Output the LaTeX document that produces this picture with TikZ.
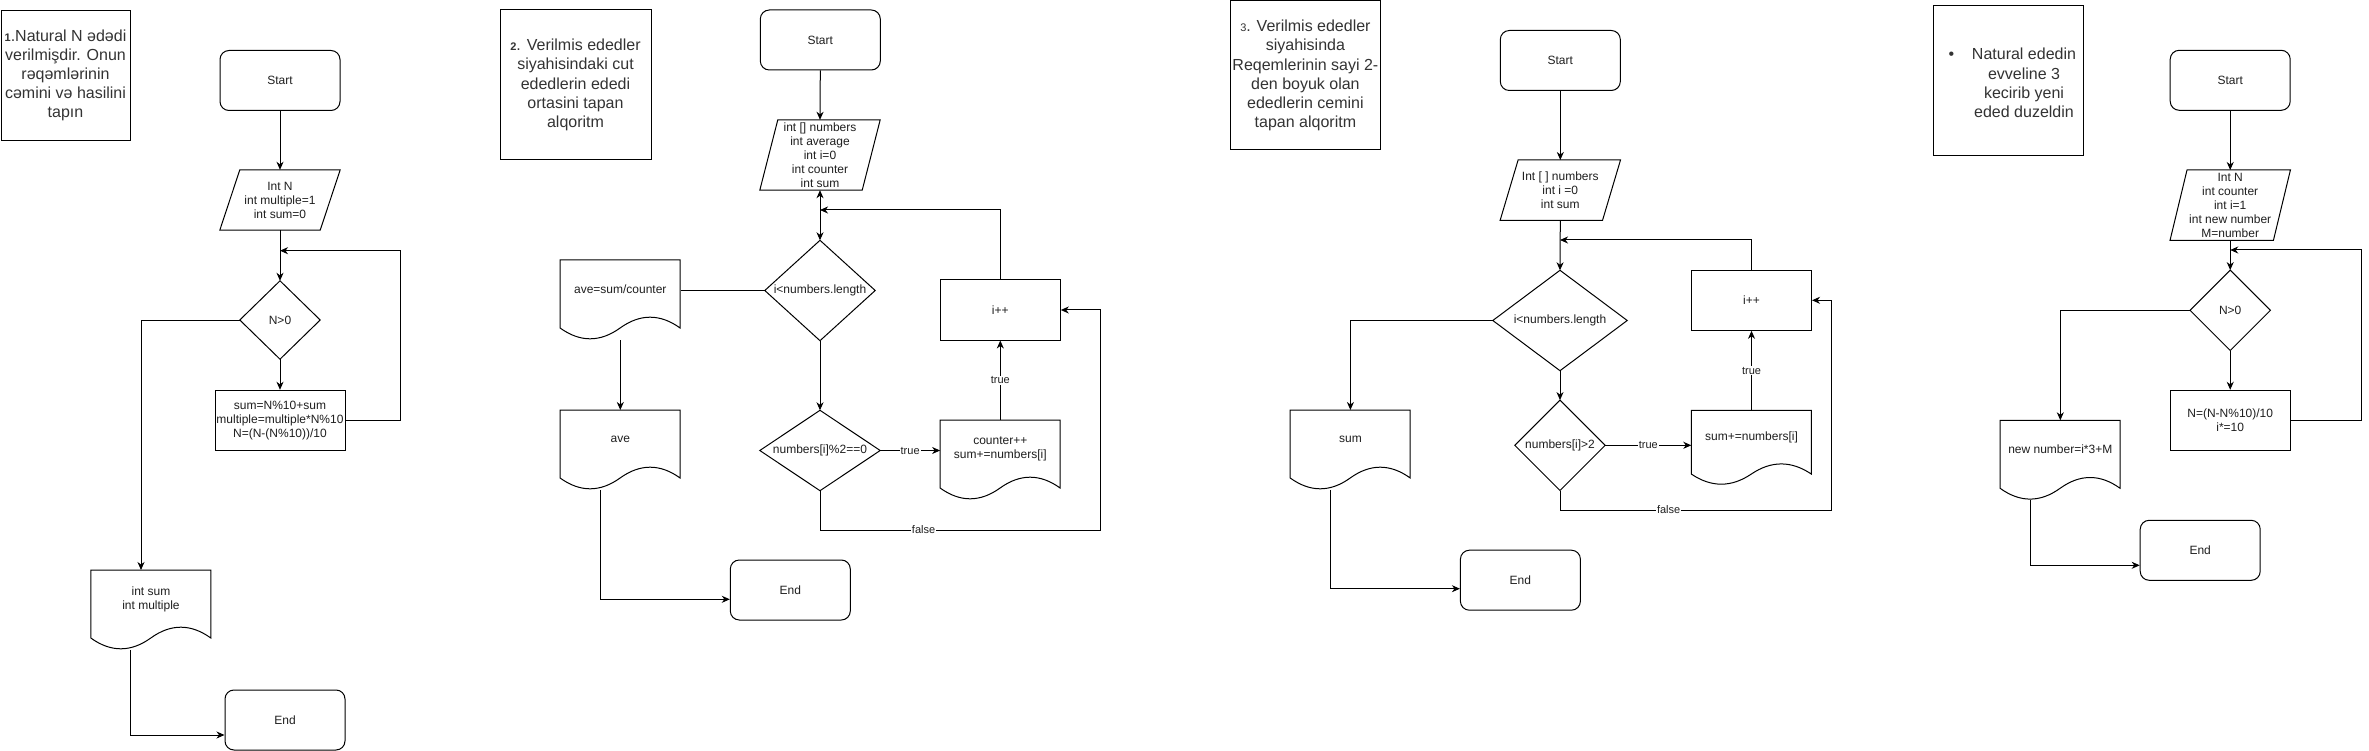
\documentclass[tikz,border=0pt]{standalone}
\usepackage{fontspec}
\setmainfont{Liberation Sans}
\usetikzlibrary{arrows.meta,calc}
\newcommand\paraoutline[2]{\draw[shapeline] (#1.south west) -- ([xshift=#2]#1.north west) -- (#1.north east) -- ([xshift=-#2]#1.south east) -- cycle;}
\newcommand\diamondoutline[1]{\draw[shapeline] (#1.north) -- (#1.east) -- (#1.south) -- (#1.west) -- cycle;}
\newcommand\docoutline[3]{\draw[shapeline, shift={(#1.north west)}] (0,0) -- (120,0) -- (120,#2-0.5*#3) .. controls (100,#2-1.1*#3) and (80,#2-1.1*#3) .. (60,#2-0.5*#3) .. controls (40,#2+0.1*#3) and (20,#2+0.1*#3) .. (0,#2-0.5*#3) -- cycle;}
\begin{document}
\begin{tikzpicture}[x=1pt,y=-1pt,
  >={Stealth[length=8pt,width=7pt,inset=2.5pt]},
  shapeline/.style={draw=black, line width=1pt},
  txt/.style={font=\fontsize{12pt}{14pt}\selectfont, text=black!88, align=center, inner sep=0pt},
  startend/.style={txt, draw=black, line width=1pt, rounded corners=9pt, minimum width=120pt, minimum height=60pt},
  procbox/.style={txt, draw=black, line width=1pt, minimum width=120pt, minimum height=60pt},
  plainbox/.style={txt, minimum width=120pt, minimum height=60pt},
  titletext/.style={align=center, inner sep=0pt, text=black!80, font=\fontsize{16pt}{19.2pt}\selectfont},
  titlebox/.style={titletext, draw=black, line width=1pt},
  conn/.style={draw=black, line width=1pt},
  arr/.style={conn, ->},
  lbl/.style={fill=white, inner sep=1pt, font=\fontsize{11pt}{13pt}\selectfont, text=black!88},
  numsmall/.style={},
]
\useasboundingbox (0,0) rectangle (2369,751);
\fill[white] (0,0) rectangle (2369,751);

% ---------------- Diagram 1 ----------------
\node[titlebox, minimum width=129pt, minimum height=129.5pt] (t1) at (65.5,75.3)
  {{\fontsize{11pt}{13pt}\selectfont\bfseries 1}.Natural N ədədi\\verilmişdir. Onun\\rəqəmlərinin\\cəmini və hasilini\\tapın};
\node[startend] (s1) at (280,80.5) {Start};
\node[plainbox] (p1) at (280,200) {Int N\\int multiple=1\\int sum=0};
\paraoutline{p1}{20pt}
\node[plainbox, minimum width=80pt, minimum height=78pt] (dm1) at (280,320) {N>0};
\diamondoutline{dm1}
\node[procbox, minimum width=130pt] (r1) at (280,420.3) {sum=N\%10+sum\\multiple=multiple*N\%10\\N=(N-(N\%10))/10};
\node[plainbox, minimum height=58pt, anchor=north] (d1) at (151,570) {int sum\\int multiple};
\docoutline{d1}{80}{24}
\node[startend] (e1) at (285,720) {End};
\coordinate (j1) at (280,250.7);
\coordinate (d1b) at (130,650);

\draw[arr] (s1.south) -- (p1.north);
\draw[arr] (p1.south) -- (dm1.north);
\draw[arr] (dm1.south) -- (r1.north);
\draw[arr] (r1.east) -- ++(55,0) |- (j1);
\draw[arr] (dm1.west) -| ([xshift=-10pt]d1.north);
\draw[arr] (d1b) |- ([yshift=-15pt]e1.west);

% ---------------- Diagram 2 ----------------
\node[titlebox, minimum width=151pt, minimum height=150pt] (t2) at (575.5,85)
  {{\fontsize{11pt}{13pt}\selectfont\bfseries 2}. Verilmis ededler\\siyahisindaki cut\\ededlerin ededi\\ortasini tapan\\alqoritm};
\node[startend] (s2) at (820.3,40) {Start};
\node[plainbox, minimum height=70pt] (p2) at (820,155) {int [] numbers\\int average\\int i=0\\int counter\\int sum};
\paraoutline{p2}{18pt}
\node[plainbox, minimum width=110pt, minimum height=100pt] (dm2a) at (820,290.5) {i<numbers.length};
\diamondoutline{dm2a}
\node[procbox] (r2) at (1000.3,310) {i++};
\node[plainbox, minimum height=58pt, anchor=north] (d2a) at (620.3,260) {ave=sum/counter};
\docoutline{d2a}{80}{24}
\node[plainbox, minimum height=58pt, anchor=north] (d2b) at (620.3,410) {ave};
\docoutline{d2b}{80}{24}
\node[startend] (e2) at (790.3,590) {End};
\node[plainbox, minimum width=120pt, minimum height=80pt] (dm2b) at (820,450.5) {numbers[i]\%2==0};
\diamondoutline{dm2b}
\node[plainbox, minimum height=58pt, anchor=north] (d2c) at (1000.3,420) {counter++\\sum+=numbers[i]};
\docoutline{d2c}{80}{24}
\coordinate (j2) at (820,210);
\coordinate (d2ab) at (620.3,340);
\coordinate (d2bb) at (600.6,490);
\coordinate (f2a) at (820,530);
\coordinate (f2b) at (1100,530);

\draw[arr] (s2.south) -- (p2.north);
\draw[conn, <->] (p2.south) -- (dm2a.north);
\draw[arr] (r2.north) |- (j2);
\draw[conn] (dm2a.west) -- (dm2a.west -| d2a.east);
\draw[arr] (d2ab) -- (d2b.north);
\draw[arr] (d2bb) |- ([yshift=-9.3pt]e2.west);
\draw[arr] (dm2a.south) -- (dm2b.north);
\draw[arr] (dm2b.east) -- node[lbl]{true} (dm2b.east -| d2c.west);
\draw[arr] (d2c.north) -- node[lbl]{true} (r2.south);
\draw[arr] (dm2b.south) -- (f2a) -- node[lbl, pos=0.37]{false} (f2b) |- (r2.east);

% ---------------- Diagram 3 ----------------
\node[titlebox, minimum width=150pt, minimum height=149pt] (t3) at (1305.4,75.5)
  {{\fontsize{11pt}{13pt}\selectfont 3}. Verilmis ededler\\siyahisinda\\Reqemlerinin sayi 2-\\den boyuk olan\\ededlerin cemini\\tapan alqoritm};
\node[startend] (s3) at (1560.3,60.5) {Start};
\node[plainbox] (p3) at (1560.3,190.2) {Int [ ] numbers\\int i =0\\int sum};
\paraoutline{p3}{18pt}
\node[plainbox, minimum width=134pt, minimum height=100pt] (dm3a) at (1560,320.5) {i<numbers.length};
\diamondoutline{dm3a}
\node[procbox] (r3) at (1751.5,300.3) {i++};
\node[plainbox, minimum height=58pt, anchor=north] (d3a) at (1350.4,410) {sum};
\docoutline{d3a}{80}{24}
\node[startend] (e3) at (1520.4,580.2) {End};
\node[plainbox, minimum width=90pt, minimum height=90pt] (dm3b) at (1560,445.3) {numbers[i]>2};
\diamondoutline{dm3b}
\node[plainbox, minimum height=53pt, anchor=north] (d3b) at (1751.5,410.3) {sum+=numbers[i]};
\docoutline{d3b}{75}{22.5}
\coordinate (j3) at (1560,240);
\coordinate (d3ab) at (1330.3,490);
\coordinate (f3a) at (1560,510);
\coordinate (f3b) at (1831.5,510);

\draw[arr] (s3.south) -- (p3.north);
\draw[arr] (p3.south) -- (dm3a.north);
\draw[arr] (r3.north) |- (j3);
\draw[arr] (dm3a.west) -| (d3a.north);
\draw[arr] (d3ab) |- ([yshift=-8.5pt]e3.west);
\draw[arr] (dm3a.south) -- (dm3b.north);
\draw[arr] (dm3b.east) -- node[lbl]{true} (dm3b.east -| d3b.west);
\draw[arr] (d3b.north) -- node[lbl]{true} (r3.south);
\draw[arr] (dm3b.south) -- (f3a) -- node[lbl, pos=0.4]{false} (f3b) |- (r3.east);

% ---------------- Diagram 4 ----------------
\node[draw=black, line width=1pt, minimum width=150pt, minimum height=150pt, inner sep=0pt] (t4) at (2008.3,80.3) {};
\node[titletext] (t4t) at (2024,83) {\llap{•\hspace{17.8pt}}Natural ededin\\evveline 3\\kecirib yeni\\eded duzeldin};
\node[startend] (s4) at (2230.2,80.3) {Start};
\node[plainbox, minimum height=70pt] (p4) at (2230.2,205.2) {Int N\\int counter\\int i=1\\int new number\\M=number};
\paraoutline{p4}{17pt}
\node[plainbox, minimum width=80pt, minimum height=80pt] (dm4) at (2230.2,310.3) {N>0};
\diamondoutline{dm4}
\node[procbox] (r4) at (2230.2,420.3) {N=(N-N\%10)/10\\i*=10};
\node[plainbox, minimum height=58pt, anchor=north] (d4) at (2060.3,420.3) {new number=i*3+M};
\docoutline{d4}{80}{24}
\node[startend] (e4) at (2200.2,550.3) {End};
\coordinate (j4) at (2230.2,250);
\coordinate (d4b) at (2030.3,500.3);

\draw[arr] (s4.south) -- (p4.north);
\draw[arr] (p4.south) -- (dm4.north);
\draw[arr] (dm4.south) -- (r4.north);
\draw[arr] (r4.east) -- ++(70.4,0) |- (j4);
\draw[arr] (dm4.west) -| (d4.north);
\draw[arr] (d4b) |- ([yshift=-15pt]e4.west);
\end{tikzpicture}
\end{document}
